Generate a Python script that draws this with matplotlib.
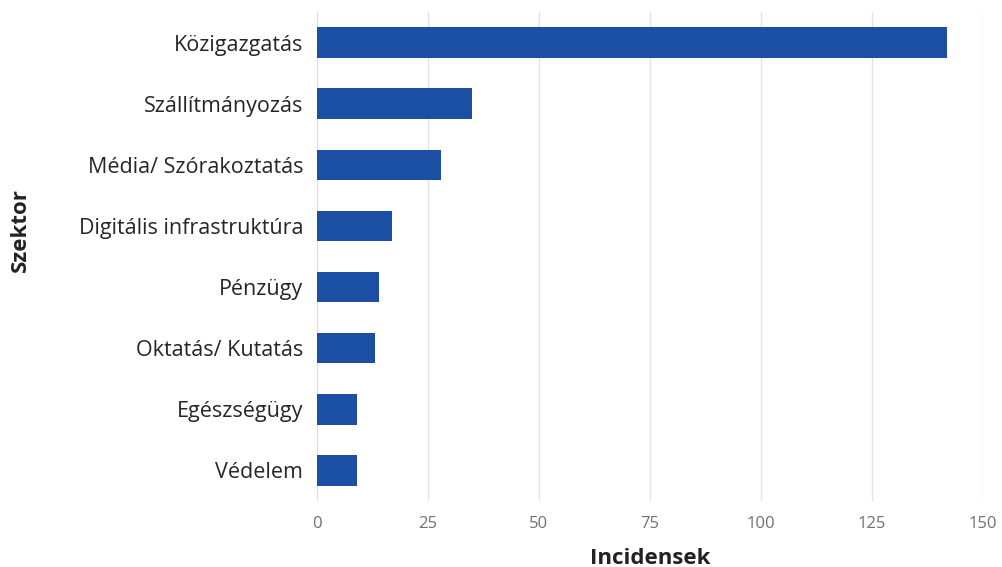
import matplotlib
matplotlib.use("Agg")
import matplotlib.pyplot as plt

sectors = ["Közigazgatás", "Szállítmányozás", "Média/ Szórakoztatás",
           "Digitális infrastruktúra", "Pénzügy", "Oktatás/ Kutatás",
           "Egészségügy", "Védelem"]
incidents = [142, 35, 28, 17, 14, 13, 9, 9]
x_ticks = [0, 25, 50, 75, 100, 125, 150]

plt.rcParams['font.family'] = ['Open Sans', 'DejaVu Sans']

fig = plt.figure(figsize=(10.02, 5.67), dpi=100)
ax = fig.add_axes([317 / 1002, 1 - 501 / 567, (983 - 317) / 1002, (501 - 12) / 567])

y = list(range(len(sectors)))
ax.barh(y, incidents, height=0.5, color="#1b4fa3", zorder=3)

ax.set_ylim(len(sectors) - 0.5, -0.5)
ax.set_xlim(0, 150)
ax.set_xticks(x_ticks)
ax.set_xticklabels([str(t) for t in x_ticks], fontsize=12, color="#707070")
ax.set_yticks(y)
ax.set_yticklabels(sectors, fontsize=15.5, color="#262626")
ax.tick_params(axis="both", length=0)
ax.tick_params(axis="y", pad=10)
ax.tick_params(axis="x", pad=11)

ax.grid(axis="x", color="#e2e2e2", linewidth=1, zorder=0)
for s in ax.spines.values():
    s.set_visible(False)

ax.set_xlabel("Incidensek", fontsize=16, fontweight="bold", color="#222222", labelpad=11)
fig.text(20 / 1002, 1 - 230 / 567, "Szektor", rotation=90, fontsize=16,
         fontweight="bold", color="#222222", ha="center", va="center")

fig.savefig("out.png", dpi=100)
